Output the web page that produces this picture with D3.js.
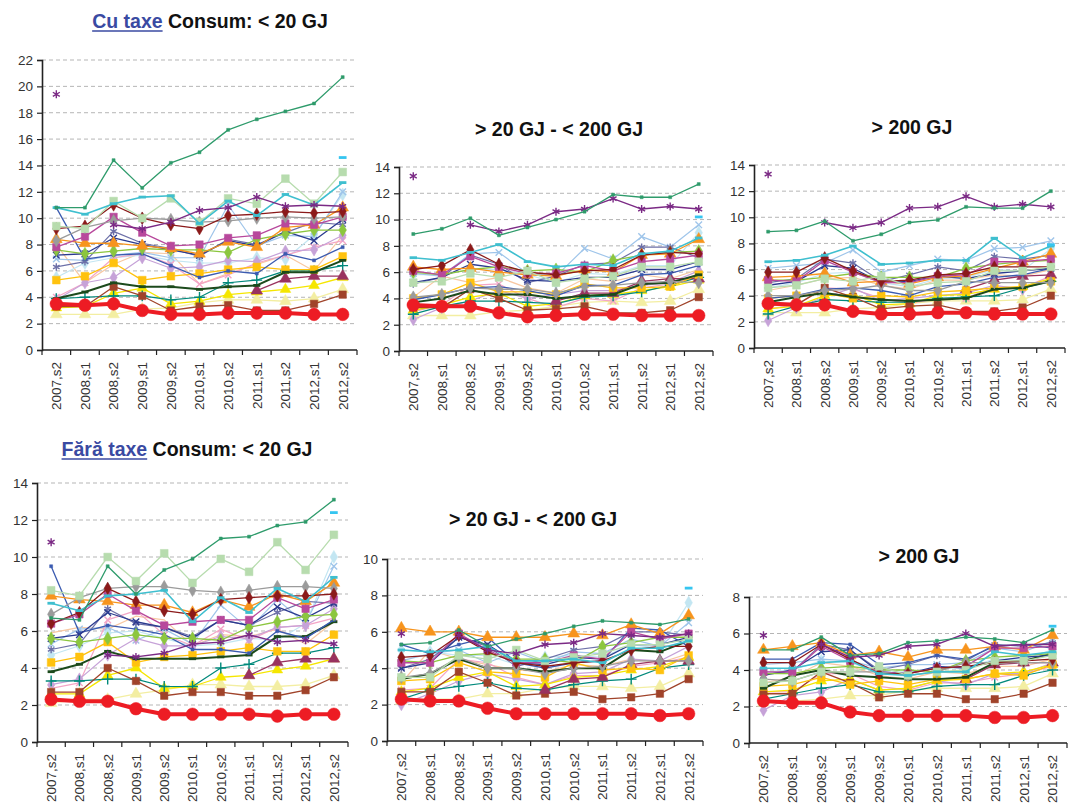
<!DOCTYPE html>
<html>
<head>
<meta charset="utf-8">
<script src="https://cdn.jsdelivr.net/npm/d3@7"></script>
<style>
  body { margin: 0; background: #fff; }
  text { font-family: Arial, "Liberation Sans", sans-serif; }
</style>
</head>
<body>
<svg id="chart" width="1068" height="812"></svg>
<script>
// periods on the x axis
var periods = ["2007,s2","2008,s1","2008,s2","2009,s1","2009,s2","2010,s1","2010,s2","2011,s1","2011,s2","2012,s1","2012,s2"];
var N = null;

// Cu taxe, consum < 20 GJ
var cuLow = {
  eu:  [3.5,3.4,3.5,3.0,2.7,2.7,2.8,2.8,2.8,2.7,2.7],
  grn: [10.8,10.8,14.4,12.3,14.2,15.0,16.7,17.5,18.1,18.7,20.7],
  pur: [19.4,N,9.5,9.2,9.7,10.6,10.8,11.6,10.9,11.0,10.9],
  cyn: [10.8,10.3,11.1,11.6,11.7,9.6,11.3,10.2,11.8,11.0,12.7],
  lgr: [9.4,9.2,11.3,10.0,11.5,9.7,11.5,11.1,13.0,11.1,13.5],
  dred:[9.2,9.4,11.0,10.0,9.5,9.2,10.2,10.3,10.5,10.4,10.5],
  gry: [8.3,9.3,9.8,10.0,9.9,9.7,9.8,10.0,10.1,10.0,10.1],
  mag: [7.8,8.6,10.1,8.9,7.9,8.0,8.5,8.7,9.6,9.5,10.1],
  org: [8.4,8.1,8.1,7.9,7.7,7.3,8.2,7.8,9.3,9.5,10.8],
  ygr: [7.6,7.3,7.5,7.7,7.6,7.6,7.4,8.4,8.8,9.1,9.1],
  nav: [7.2,7.3,8.5,8.0,7.6,7.2,8.3,7.9,9.0,8.3,9.9],
  blu: [10.8,6.9,7.2,7.3,6.4,5.5,6.0,5.8,7.3,6.8,7.8],
  lbl: [6.9,6.8,7.2,7.4,7.0,7.0,11.0,7.9,8.7,8.6,12.0],
  gld: [5.3,5.6,6.6,5.3,5.6,5.8,6.1,6.3,6.1,6.1,7.1],
  blk: [3.9,4.4,5.1,4.8,4.8,4.6,4.8,4.9,5.9,5.9,6.8],
  tea: [3.9,4.0,4.1,4.1,3.8,4.0,5.1,5.3,6.0,6.0,6.4],
  mar: [N,N,N,N,N,N,N,4.5,5.4,5.6,5.6],
  yel: [3.2,3.3,4.3,4.7,3.5,3.7,4.2,4.4,4.6,4.9,5.5],
  pyl: [2.7,2.7,2.7,3.1,3.2,3.6,3.8,3.8,3.7,3.9,4.6],
  brn: [3.3,3.3,4.8,4.1,3.0,3.3,3.4,3.0,3.0,3.5,4.2],
  pnk: [4.0,5.1,7.0,7.3,6.5,5.0,5.7,6.6,7.2,7.8,8.3],
  lav: [3.8,5.1,5.5,7.0,6.2,6.3,6.8,6.7,7.5,7.6,8.7],
  sla: [6.3,6.7,9.0,8.1,7.7,7.1,8.4,8.0,8.9,9.7,9.5],
  lcy: [5.5,6.6,7.0,7.2,6.8,6.6,6.6,7.0,6.9,8.7,11.8],
  sky: [N,N,N,N,N,N,N,N,N,N,14.6],
  pch: [8.0,5.1,6.5,7.4,7.3,5.0,5.8,6.5,7.2,6.0,8.7]
};

// Cu taxe, 20 - 200 GJ
var cuMid = {
  eu:  [3.5,3.4,3.4,2.9,2.6,2.7,2.8,2.8,2.7,2.7,2.7],
  grn: [8.9,9.3,10.1,8.8,9.4,10.0,10.6,11.9,11.7,11.7,12.7],
  pur: [13.3,N,9.6,9.1,9.6,10.6,10.8,11.6,10.8,11.0,10.8],
  cyn: [7.1,6.9,7.5,8.1,6.8,6.4,6.6,6.5,7.4,7.6,8.6],
  lgr: [5.2,5.3,5.9,5.6,6.1,5.2,5.5,5.7,6.4,6.4,6.8],
  dred:[6.2,6.5,7.7,6.6,6.0,5.8,6.1,6.2,7.3,7.5,7.4],
  gry: [4.1,4.3,4.8,4.7,4.7,4.4,4.9,5.0,5.2,5.3,5.2],
  mag: [6.1,5.8,7.2,6.4,5.9,5.9,6.5,6.1,6.8,7.0,7.3],
  org: [6.4,6.2,6.3,6.0,5.8,5.7,6.2,6.0,7.3,7.4,8.5],
  ygr: [6.0,5.8,6.2,6.4,6.1,6.2,6.0,6.9,7.3,7.5,7.6],
  nav: [5.2,5.6,6.6,6.3,5.4,5.3,5.6,5.6,6.2,6.2,6.8],
  blu: [3.9,4.3,4.8,4.9,4.6,4.2,5.0,5.0,5.8,5.9,6.5],
  lbl: [5.9,5.7,7.4,7.5,5.9,5.7,7.8,7.0,8.7,7.9,9.6],
  gld: [4.0,4.3,5.2,4.5,4.5,4.3,5.1,4.8,4.8,4.9,5.8],
  blk: [3.7,4.0,4.6,4.3,4.3,4.0,4.2,4.3,5.1,5.2,5.8],
  tea: [2.8,3.4,3.8,3.8,3.7,3.6,4.1,4.2,4.5,5.0,5.6],
  mar: [N,N,N,N,N,3.8,4.4,4.4,5.3,5.5,5.5],
  yel: [3.1,3.5,4.1,4.4,3.4,3.6,4.2,4.3,4.6,4.9,5.4],
  pyl: [2.7,2.7,2.7,3.0,3.1,3.4,3.7,3.8,3.7,3.8,4.7],
  brn: [3.3,3.3,4.7,4.0,3.1,3.2,3.4,2.9,2.9,3.1,4.1],
  pnk: [3.0,3.5,5.0,5.1,4.0,3.3,4.0,3.8,4.8,5.1,5.7],
  lav: [2.4,3.3,3.8,4.6,4.0,4.3,4.6,4.6,5.0,5.2,6.1],
  sla: [5.1,5.6,7.3,6.6,5.2,5.7,6.6,6.7,7.9,7.9,7.1],
  lcy: [5.8,5.8,6.2,6.2,5.8,5.2,5.9,5.8,6.5,6.5,9.0],
  sky: [N,N,N,N,N,N,N,N,N,N,10.2],
  pch: [4.1,5.7,5.2,5.6,4.8,4.4,5.5,5.3,5.8,5.5,6.2]
};

// Cu taxe, > 200 GJ
var cuHigh = {
  eu:  [3.4,3.3,3.3,2.8,2.6,2.6,2.7,2.7,2.6,2.6,2.6],
  grn: [8.9,9.0,9.7,8.2,8.7,9.6,9.8,10.8,10.7,10.7,12.0],
  pur: [13.3,N,9.6,9.2,9.6,10.7,10.8,11.6,10.8,11.0,10.8],
  cyn: [6.6,6.7,7.1,7.8,6.4,6.5,6.7,6.7,8.4,6.9,7.8],
  lgr: [4.6,4.8,5.3,5.1,5.5,4.7,5.0,5.1,5.9,5.9,6.2],
  dred:[5.8,5.8,6.9,5.9,5.1,5.2,5.6,5.7,6.2,6.2,6.2],
  gry: [4.0,4.0,4.4,4.5,4.8,4.4,4.4,5.1,5.0,5.0,5.0],
  mag: [5.2,5.1,6.7,5.8,5.0,5.0,5.5,5.6,6.6,6.6,6.8],
  org: [5.4,5.5,5.7,5.0,5.1,4.9,5.4,5.5,6.1,6.6,7.2],
  ygr: [5.2,5.2,5.4,5.7,5.4,5.4,5.4,6.1,6.4,6.6,6.7],
  nav: [4.8,5.1,6.3,6.1,5.0,5.1,5.5,5.3,5.7,5.9,6.1],
  blu: [3.8,4.0,4.5,4.6,4.4,4.0,4.7,4.9,5.4,5.6,6.1],
  lbl: [6.1,6.3,6.5,7.5,5.8,6.3,6.8,6.7,7.6,7.7,8.2],
  gld: [3.8,4.0,4.2,3.8,4.0,3.9,4.3,4.4,4.6,4.7,5.1],
  blk: [3.5,3.9,4.2,3.9,3.7,3.6,3.7,3.8,4.5,4.6,5.1],
  tea: [2.6,3.2,3.7,3.6,3.5,3.5,3.8,3.9,4.0,4.6,5.1],
  mar: [N,N,N,N,N,N,N,4.5,5.2,5.5,5.6],
  yel: [3.0,3.2,4.0,4.1,3.3,3.4,4.0,4.1,4.5,4.7,5.3],
  pyl: [2.7,2.7,2.7,3.0,3.1,3.4,3.6,3.6,3.6,3.7,4.5],
  brn: [3.3,3.3,4.6,3.9,3.0,3.2,3.3,2.8,2.8,3.1,4.0],
  pnk: [3.0,3.3,4.6,4.5,3.8,3.4,3.8,3.8,4.7,4.6,5.5],
  lav: [2.1,3.1,3.9,4.6,3.6,3.8,4.0,4.2,4.8,4.5,5.3],
  sla: [5.0,5.3,6.8,6.5,5.1,5.6,6.2,5.9,7.0,6.8,7.1],
  lcy: [4.6,5.0,5.7,5.8,5.0,4.7,5.3,5.4,6.0,5.9,7.6],
  sky: [N,N,N,N,N,N,N,N,N,N,7.9],
  pch: [4.4,4.8,5.3,5.4,4.8,4.5,5.2,5.2,5.6,5.5,6.0]
};

// Fara taxe, consum < 20 GJ
var faraLow = {
  eu:  [2.3,2.2,2.2,1.8,1.5,1.5,1.5,1.5,1.4,1.5,1.5],
  grn: [6.7,6.6,9.5,8.0,9.3,9.9,11.0,11.1,11.7,11.9,13.1],
  pur: [10.8,N,4.7,4.6,4.8,5.3,5.4,5.8,5.4,5.5,5.3],
  cyn: [7.5,7.1,7.9,8.0,8.2,6.5,7.8,7.0,8.3,7.6,8.9],
  lgr: [8.2,7.9,10.0,8.7,10.2,8.6,9.9,9.2,10.8,9.3,11.2],
  dred:[6.4,7.0,8.3,7.6,7.1,6.9,7.7,7.8,7.9,7.9,8.0],
  gry: [6.9,7.8,8.3,8.4,8.4,8.2,8.1,8.2,8.4,8.4,8.3],
  mag: [6.4,6.9,8.0,7.1,6.3,6.5,6.6,6.6,7.8,7.2,7.7],
  org: [7.9,7.7,7.6,7.4,7.4,7.0,7.7,7.3,8.0,7.6,8.6],
  ygr: [5.6,5.4,5.6,5.8,5.6,5.6,5.5,6.2,6.5,6.8,6.9],
  nav: [5.6,5.8,7.0,6.5,6.2,5.6,6.6,6.3,7.3,6.7,7.5],
  blu: [9.5,5.9,6.3,6.1,5.8,5.0,5.0,4.8,6.0,5.6,6.6],
  lbl: [5.3,6.1,6.2,5.5,6.1,5.3,7.4,6.1,7.7,6.4,9.5],
  gld: [4.3,4.6,5.4,4.3,4.6,4.7,4.9,5.1,4.9,4.9,5.8],
  blk: [3.8,4.2,4.9,4.5,4.5,4.5,4.6,4.7,5.7,5.7,6.5],
  tea: [3.3,3.3,3.4,3.4,3.0,3.0,4.0,4.2,4.8,4.8,5.1],
  mar: [N,N,N,N,N,N,N,3.6,4.3,4.5,4.5],
  yel: [2.6,2.6,3.6,4.0,2.9,3.0,3.5,3.6,3.9,4.1,4.5],
  pyl: [2.1,2.3,2.3,2.6,2.8,3.1,3.1,3.0,3.0,3.1,3.6],
  brn: [2.7,2.7,4.0,3.3,2.5,2.7,2.7,2.5,2.5,2.8,3.5],
  pnk: [2.9,3.2,6.6,7.1,5.8,5.2,6.1,5.5,6.2,6.3,6.7],
  lav: [3.1,3.4,4.7,5.6,5.2,5.2,5.7,5.6,6.2,6.3,7.2],
  sla: [5.0,5.3,7.2,6.4,6.2,5.7,6.6,6.3,7.0,7.6,7.5],
  lcy: [4.7,5.2,5.9,6.0,5.6,5.2,5.3,5.6,5.5,6.4,10.0],
  sky: [N,N,N,N,N,N,N,N,N,N,12.4],
  pch: [5.9,6.2,6.1,6.8,6.6,5.2,5.8,5.7,6.1,5.3,6.5]
};

// Fara taxe, 20 - 200 GJ
var faraMid = {
  eu:  [2.3,2.2,2.2,1.8,1.5,1.5,1.5,1.5,1.5,1.4,1.5],
  grn: [5.3,5.4,6.1,5.2,5.6,5.9,6.3,6.6,6.5,6.4,6.7],
  pur: [5.9,N,5.8,5.0,4.8,5.3,5.4,5.9,5.8,5.7,5.9],
  cyn: [5.0,4.9,5.0,5.2,4.4,4.4,4.5,4.3,5.1,5.1,5.5],
  lgr: [3.5,3.5,4.7,4.5,5.0,4.4,4.6,4.8,5.3,5.3,5.6],
  dred:[4.6,4.7,5.8,4.9,4.3,4.1,4.3,4.4,5.0,5.2,5.2],
  gry: [3.5,3.7,4.6,4.0,4.0,3.7,4.0,4.1,4.4,4.4,4.4],
  mag: [4.3,4.3,5.9,5.0,4.3,4.3,4.7,4.5,6.0,5.6,5.9],
  org: [6.2,6.0,6.0,5.7,5.7,5.7,5.9,5.8,6.4,5.9,6.9],
  ygr: [4.4,4.3,4.7,4.8,4.5,4.5,4.3,5.2,5.4,5.7,5.7],
  nav: [4.0,4.3,5.7,5.3,4.3,4.2,4.6,4.5,5.3,5.3,5.7],
  blu: [5.3,4.8,5.3,5.7,4.3,4.0,4.3,4.4,6.2,6.1,5.2],
  lbl: [4.4,4.8,5.0,4.3,4.9,4.3,4.9,4.8,5.6,5.2,6.5],
  gld: [3.3,3.4,4.3,3.8,3.7,3.5,4.3,3.9,4.0,3.9,4.7],
  blk: [3.4,3.7,4.5,4.0,4.0,3.8,4.0,4.0,5.0,4.9,5.5],
  tea: [2.3,2.8,3.0,3.2,2.9,2.8,3.1,3.3,3.4,4.0,4.2],
  mar: [N,N,N,N,N,2.8,3.4,3.5,4.2,4.4,4.4],
  yel: [2.7,2.9,3.5,3.8,3.0,3.1,3.5,3.6,3.9,4.1,4.6],
  pyl: [2.2,2.3,2.3,2.6,2.6,2.9,3.0,3.0,2.9,3.0,3.7],
  brn: [2.7,2.7,3.8,3.2,2.5,2.6,2.7,2.3,2.4,2.6,3.4],
  pnk: [2.8,2.9,4.5,4.3,3.5,3.1,3.6,3.6,4.1,4.3,4.6],
  lav: [2.0,2.6,3.3,3.7,3.4,3.1,3.7,3.8,4.5,4.4,5.2],
  sla: [4.0,4.5,5.7,5.2,4.1,4.5,5.0,5.2,6.0,6.0,5.8],
  lcy: [5.0,4.9,4.7,4.7,4.2,4.6,4.7,4.6,5.3,5.1,7.6],
  sky: [N,N,N,N,N,N,N,N,N,N,8.4],
  pch: [3.2,5.0,4.5,4.2,3.9,3.8,4.2,4.1,4.5,4.3,4.8]
};

// Fara taxe, > 200 GJ
var faraHigh = {
  eu:  [2.3,2.2,2.2,1.7,1.5,1.5,1.5,1.5,1.4,1.4,1.5],
  grn: [5.1,5.1,5.8,4.8,4.9,5.5,5.6,5.8,5.7,5.5,6.2],
  pur: [5.9,N,5.4,4.7,4.8,5.3,5.4,6.0,5.3,5.4,5.4],
  cyn: [4.1,4.1,4.4,4.5,3.8,3.7,3.9,3.9,5.0,4.8,5.0],
  lgr: [3.3,3.4,3.9,3.9,4.2,3.7,3.9,4.0,4.5,4.5,4.8],
  dred:[4.4,4.4,5.4,4.6,3.8,3.8,4.1,4.2,4.4,4.5,4.6],
  gry: [3.5,3.4,3.9,3.9,3.9,3.7,3.9,4.4,4.4,4.4,4.4],
  mag: [3.9,3.9,5.3,4.5,3.9,3.8,4.1,4.2,5.2,5.2,5.3],
  org: [5.1,5.3,5.5,4.8,5.0,4.7,5.1,5.1,5.3,5.1,5.9],
  ygr: [3.8,3.8,4.1,4.2,4.0,4.0,3.9,4.5,4.7,4.8,4.9],
  nav: [3.7,4.0,5.0,5.1,3.9,3.8,4.2,4.1,4.5,4.7,4.8],
  blu: [4.6,4.6,5.5,5.4,4.3,4.4,4.8,4.6,5.3,5.4,5.2],
  lbl: [4.3,4.4,4.6,4.5,4.1,4.3,4.3,4.4,5.2,5.0,5.6],
  gld: [3.1,3.2,3.6,3.2,3.4,3.2,3.5,3.5,3.8,3.7,4.3],
  blk: [3.0,3.7,4.0,3.7,3.6,3.5,3.5,3.6,4.4,4.5,4.9],
  tea: [2.4,2.7,3.0,3.2,2.8,2.8,3.1,3.2,3.2,3.7,4.0],
  mar: [N,N,N,N,N,N,N,3.5,4.3,4.4,4.4],
  yel: [2.8,2.9,3.4,3.5,2.9,3.0,3.4,3.5,3.8,3.9,4.3],
  pyl: [2.2,2.3,2.4,2.6,2.6,2.9,3.0,3.0,3.0,3.1,3.8],
  brn: [2.7,2.7,3.9,3.3,2.5,2.7,2.7,2.4,2.4,2.7,3.3],
  pnk: [2.8,2.8,3.8,3.8,3.1,2.9,3.3,3.3,3.6,3.8,4.2],
  lav: [1.8,2.6,2.8,3.5,2.9,3.0,3.4,3.2,3.8,3.8,4.4],
  sla: [3.8,3.9,5.4,5.1,4.0,4.3,4.8,4.5,5.4,5.3,5.5],
  lcy: [3.9,4.0,4.5,4.4,3.9,3.9,4.1,4.1,4.6,4.6,5.1],
  sky: [N,N,N,N,N,N,N,N,N,N,6.4],
  pch: [3.3,3.6,4.4,4.2,3.7,3.5,3.9,3.8,4.2,4.2,4.6]
};

// drawing order, bottom to top
var drawOrder = ["pch","pyl","lcy","lbl","pnk","lav","sla","yel","tea","brn","mar","gld","blk","blu","nav","ygr","org","mag","gry","dred","lgr","cyn","pur","grn","sky","eu"];

// look of each series
var dashSym = { draw: function(ctx, size) { var w = Math.sqrt(size) / 2; ctx.moveTo(-w, 0); ctx.lineTo(w, 0); } };
var symbols = {
  circle: [d3.symbolCircle, true], square: [d3.symbolSquare, true], diamond: [d3.symbolDiamond, true],
  triangle: [d3.symbolTriangle, true], plus: [d3.symbolPlus || d3.symbolCross, false],
  times: [d3.symbolTimes || d3.symbolCross, false], star: [d3.symbolAsterisk || d3.symbolCross, false],
  dash: [dashSym, false]
};
var styles = {
  eu:  {c:"#ed1c24", w:4,   m:"circle",   s:125},
  grn: {c:"#2e9b6b", w:1.3, m:"square",   s:9},
  pur: {c:"#7b2a85", w:1.4, m:"star",     s:45},
  cyn: {c:"#3fbfcf", w:1.6, m:"dash",     s:55},
  lgr: {c:"#b7dcae", w:1.3, m:"square",   s:60},
  dred:{c:"#8b1a1a", w:1.3, m:"diamond",  s:45},
  gry: {c:"#9b9b9b", w:1.3, m:"diamond",  s:45},
  mag: {c:"#b8489c", w:1.3, m:"square",   s:55},
  org: {c:"#f7941d", w:1.3, m:"triangle", s:60},
  ygr: {c:"#8cc63f", w:1.3, m:"diamond",  s:50},
  nav: {c:"#2b3a8f", w:1.3, m:"times",    s:30},
  blu: {c:"#3b5bb0", w:1.3, m:"square",   s:9},
  lbl: {c:"#9fc5ea", w:1.2, m:"times",    s:30},
  gld: {c:"#ffc20e", w:1.3, m:"square",   s:60},
  blk: {c:"#1c4a1c", w:2,   m:"dash",     s:50},
  tea: {c:"#00897b", w:1.2, m:"plus",     s:40},
  mar: {c:"#99325f", w:1.3, m:"triangle", s:60},
  yel: {c:"#f5e600", w:1.3, m:"triangle", s:50},
  pyl: {c:"#f3eea2", w:1.3, m:"triangle", s:60},
  brn: {c:"#a0432a", w:1.3, m:"square",   s:55},
  pnk: {c:"#f4a5c6", w:1.2, m:"times",    s:30},
  lav: {c:"#c6a2d8", w:1.2, m:"diamond",  s:45},
  sla: {c:"#6d70a8", w:1.2, m:"star",     s:40},
  lcy: {c:"#c3e6f2", w:1.2, m:"diamond",  s:50},
  sky: {c:"#35c5f0", w:1.5, m:"dash",     s:60},
  pch: {c:"#f8c8a2", w:1.2, m:null,       s:0}
};

var panels = [
  {data: cuLow,    ymax: 22, left: 42,  right: 357,  top: 60,  bottom: 350, link: "Cu taxe",   rest: " Consum: < 20 GJ", tx: 210, ty: 28},
  {data: cuMid,    ymax: 14, left: 399, right: 713,  top: 167, bottom: 351, link: null, rest: "> 20 GJ - < 200 GJ", tx: 559, ty: 136},
  {data: cuHigh,   ymax: 14, left: 754, right: 1065, top: 165, bottom: 348, link: null, rest: "> 200 GJ",           tx: 912, ty: 134},
  {data: faraLow,  ymax: 14, left: 37,  right: 348,  top: 483, bottom: 742, link: "Fără taxe", rest: " Consum: < 20 GJ", tx: 187, ty: 456},
  {data: faraMid,  ymax: 10, left: 387, right: 703,  top: 559, bottom: 741, link: null, rest: "> 20 GJ - < 200 GJ", tx: 533, ty: 526},
  {data: faraHigh, ymax: 8,  left: 749, right: 1067, top: 597, bottom: 743, link: null, rest: "> 200 GJ",           tx: 919, ty: 563}
];

var svg = d3.select("#chart");

panels.forEach(function(p) {
  var g = svg.append("g");
  var x = d3.scaleBand().domain(periods).range([p.left, p.right]);
  var y = d3.scaleLinear().domain([0, p.ymax]).range([p.bottom, p.top]);
  var yTicks = d3.range(0, p.ymax + 0.01, 2);

  // title (blue underlined part + black part)
  var tg = g.append("g");
  var t1 = null, w1 = 0;
  if (p.link) {
    t1 = tg.append("text").attr("font-size", 19.5).attr("font-weight", "bold").attr("fill", "#3a4aa2").text(p.link);
    w1 = t1.node().getComputedTextLength();
  }
  var t2 = tg.append("text").attr("font-size", 19.5).attr("font-weight", "bold").attr("fill", "#111")
    .style("white-space", "pre").attr("xml:space", "preserve").text(p.rest);
  var w2 = t2.node().getComputedTextLength();
  var sx = p.tx - (w1 + w2) / 2;
  if (t1) {
    t1.attr("x", sx).attr("y", p.ty);
    tg.append("line").attr("x1", sx).attr("x2", sx + w1).attr("y1", p.ty + 3).attr("y2", p.ty + 3)
      .attr("stroke", "#3a4aa2").attr("stroke-width", 1.6);
  }
  t2.attr("x", sx + w1).attr("y", p.ty);

  // gridlines
  g.selectAll(".grid").data(yTicks.filter(function(d) { return d > 0; })).enter().append("line")
    .attr("x1", p.left).attr("x2", p.right).attr("y1", function(d) { return y(d); }).attr("y2", function(d) { return y(d); })
    .attr("stroke", "#b5b5b5").attr("stroke-dasharray", "4,3").attr("stroke-width", 1);

  // y axis
  var yAxis = d3.axisLeft(y).tickValues(yTicks).tickSize(5).tickPadding(4).tickFormat(d3.format("d"));
  var ya = g.append("g").attr("transform", "translate(" + p.left + ",0)").call(yAxis);
  ya.select(".domain").attr("stroke", "#222").attr("stroke-width", 1.6);
  ya.selectAll(".tick line").attr("stroke", "#222").attr("stroke-width", 1.2);
  ya.selectAll("text").attr("font-size", 13.5).attr("fill", "#333").attr("font-family", "Arial, 'Liberation Sans', sans-serif");

  // x axis: ticks at band edges, labels rotated
  var xa = g.append("g");
  xa.append("line").attr("x1", p.left).attr("x2", p.right).attr("y1", p.bottom).attr("y2", p.bottom)
    .attr("stroke", "#222").attr("stroke-width", 1.6);
  var edges = periods.map(function(d) { return x(d); }).concat([p.right]);
  xa.selectAll(".xt").data(edges).enter().append("line")
    .attr("x1", function(d) { return d; }).attr("x2", function(d) { return d; })
    .attr("y1", p.bottom).attr("y2", p.bottom + 5).attr("stroke", "#222").attr("stroke-width", 1.2);
  xa.selectAll(".xl").data(periods).enter().append("text")
    .attr("transform", function(d) { return "translate(" + (x(d) + x.bandwidth() / 2) + "," + (p.bottom + 12) + ") rotate(-90)"; })
    .attr("text-anchor", "end").attr("dy", "0.36em").attr("font-size", 13.5).attr("fill", "#333")
    .text(function(d) { return d; });

  // series
  var cx = function(i) { return x(periods[i]) + x.bandwidth() / 2; };
  var line = d3.line().defined(function(d) { return d != null; })
    .x(function(d, i) { return cx(i); }).y(function(d) { return y(d); });

  drawOrder.forEach(function(k) {
    var vals = p.data[k], st = styles[k];
    var sg = g.append("g");
    sg.append("path").datum(vals).attr("d", line).attr("fill", "none")
      .attr("stroke", st.c).attr("stroke-width", st.w).attr("stroke-linejoin", "round");
    if (!st.m) return;
    var sym = symbols[st.m];
    var pts = vals.map(function(v, i) { return {v: v, i: i}; }).filter(function(d) { return d.v != null; });
    sg.selectAll("path.pt").data(pts).enter().append("path").attr("class", "pt")
      .attr("transform", function(d) { return "translate(" + cx(d.i) + "," + y(d.v) + ")"; })
      .attr("d", d3.symbol().type(sym[0]).size(st.s))
      .attr("fill", sym[1] ? st.c : "none")
      .attr("stroke", st.c)
      .attr("stroke-width", sym[1] ? 0.5 : (st.m === "dash" ? 2.8 : 1.4));
  });
});
</script>
</body>
</html>
